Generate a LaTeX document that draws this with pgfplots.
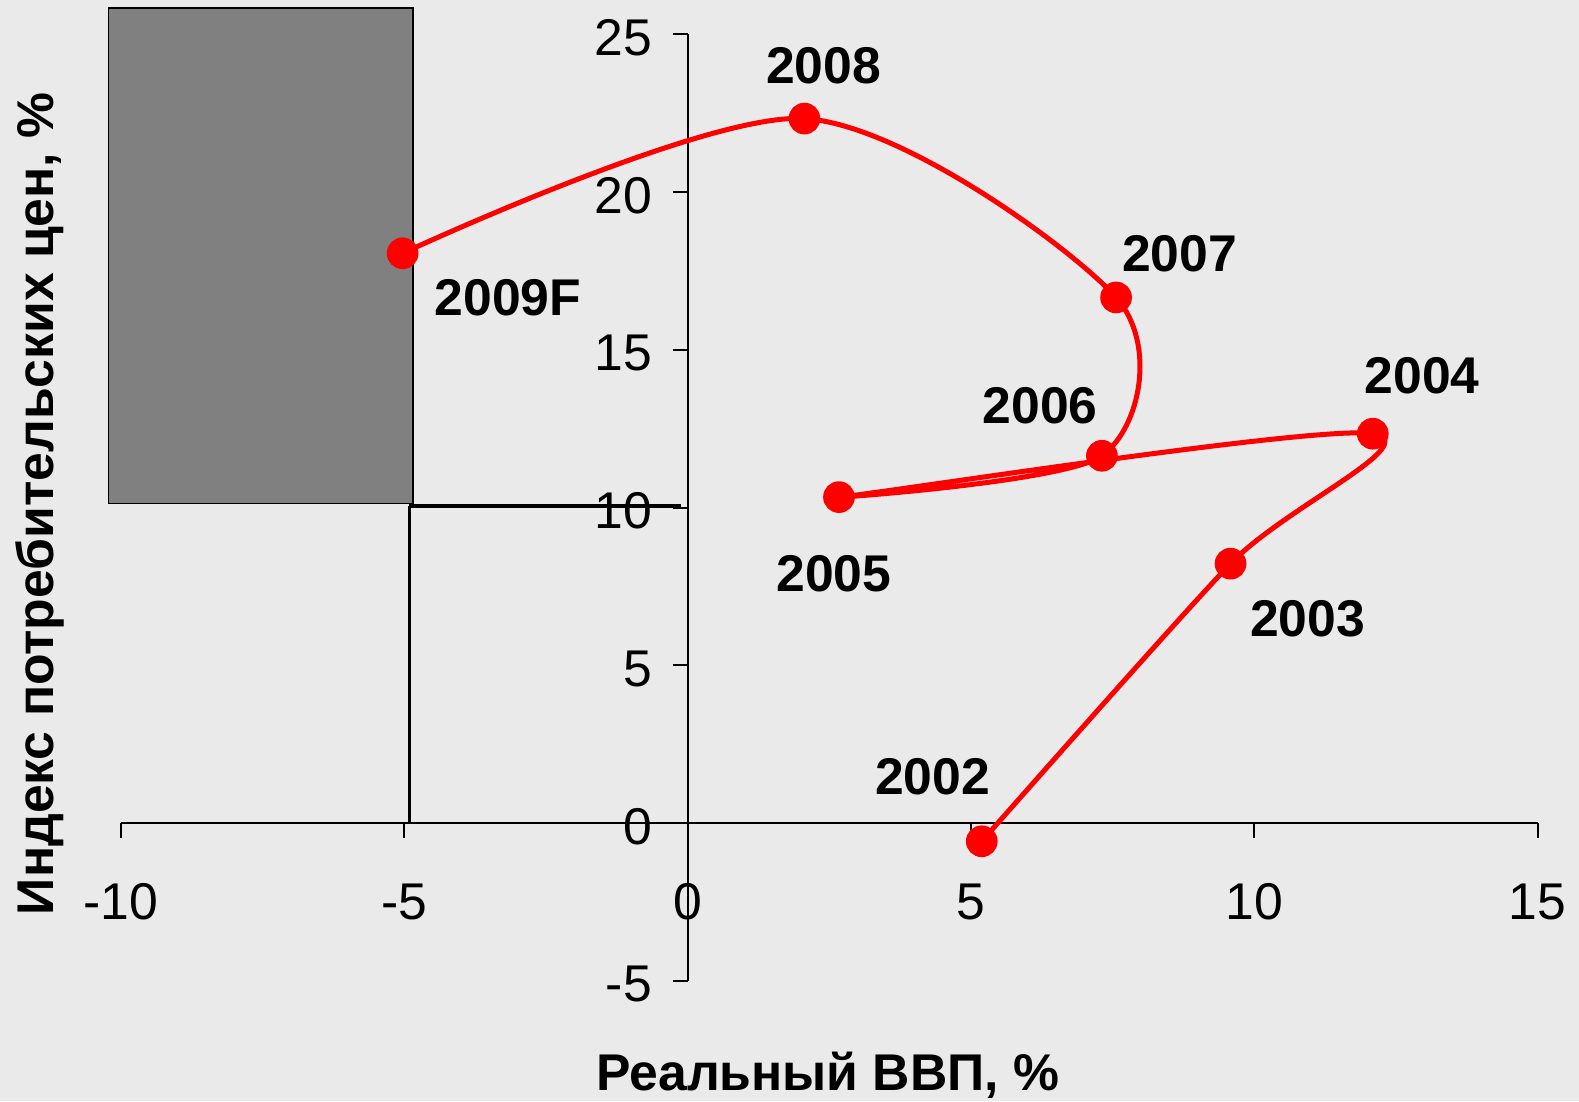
\documentclass[border=0pt]{standalone}
\usepackage{fontspec}
\setmainfont{Liberation Sans}
\usepackage{pgfplots}
\pgfplotsset{compat=1.18}
\definecolor{bg}{RGB}{234,234,234}
\definecolor{rectgray}{RGB}{128,128,128}
\newcommand{\lbl}{\fontsize{15.5}{18}\selectfont}
\begin{document}
\begin{tikzpicture}
\fill[bg, use as bounding box] (-36.3pt,-36.1pt) rectangle (437.4pt,294.2pt);
\begin{axis}[
  at={(0,0)}, anchor=south west,
  scale only axis, width=425pt, height=283.9pt,
  xmin=-10, xmax=15, ymin=-5, ymax=25,
  axis lines=middle, axis line style={-, black, line width=0.6pt},
  xtick={-10,-5,0,5,10,15}, ytick={-5,0,5,10,15,20,25},
  hide obscured x ticks=false, hide obscured y ticks=false,
  tick align=outside, major tick length=4.5pt,
  tick style={black, line width=0.6pt},
  /pgf/number format/assume math mode=true,
  ticklabel style={font=\lbl},
  xticklabel style={anchor=north, yshift=-10.2pt},
  yticklabel style={anchor=east, xshift=-2.7pt, yshift=-1.1pt},
  clip=false,
  xlabel={Реальный ВВП, \%},
  ylabel={Индекс потребительских цен, \%},
  every axis x label/.style={at={(axis description cs:0.499,-0.100)}, anchor=center, font=\bfseries\lbl},
  every axis y label/.style={at={(axis description cs:-0.057,0.504)}, anchor=center, rotate=90, font=\bfseries\lbl},
]
\fill[rectgray, draw=black, line width=0.5pt] (axis cs:-10.22,10.13) rectangle (axis cs:-4.85,25.83);
\draw[black, line width=1.2pt] (axis cs:-4.91,10.06) -- (axis cs:-0.11,10.06);
\draw[black, line width=1pt] (axis cs:-4.91,10.06) -- (axis cs:-4.91,0);
\addplot[red, line width=1.5pt, smooth, tension=0.5, mark=*, mark size=4pt, mark options={fill=red, draw=red}]
  coordinates {(5.19,-0.58) (9.58,8.22) (12.09,12.34) (2.67,10.33) (7.31,11.64) (7.56,16.66) (2.06,22.33) (-5.03,18.06)};
\begin{scope}[every node/.style={font=\bfseries\lbl}]
\node at (axis cs:2.40,24.01) {2008};
\node at (axis cs:8.68,18.03) {2007};
\node at (axis cs:-3.17,16.66) {2009F};
\node at (axis cs:6.22,13.24) {2006};
\node at (axis cs:12.96,14.19) {2004};
\node at (axis cs:2.58,7.90) {2005};
\node at (axis cs:10.94,6.46) {2003};
\node at (axis cs:4.32,1.47) {2002};
\end{scope}
\end{axis}
\end{tikzpicture}
\end{document}
